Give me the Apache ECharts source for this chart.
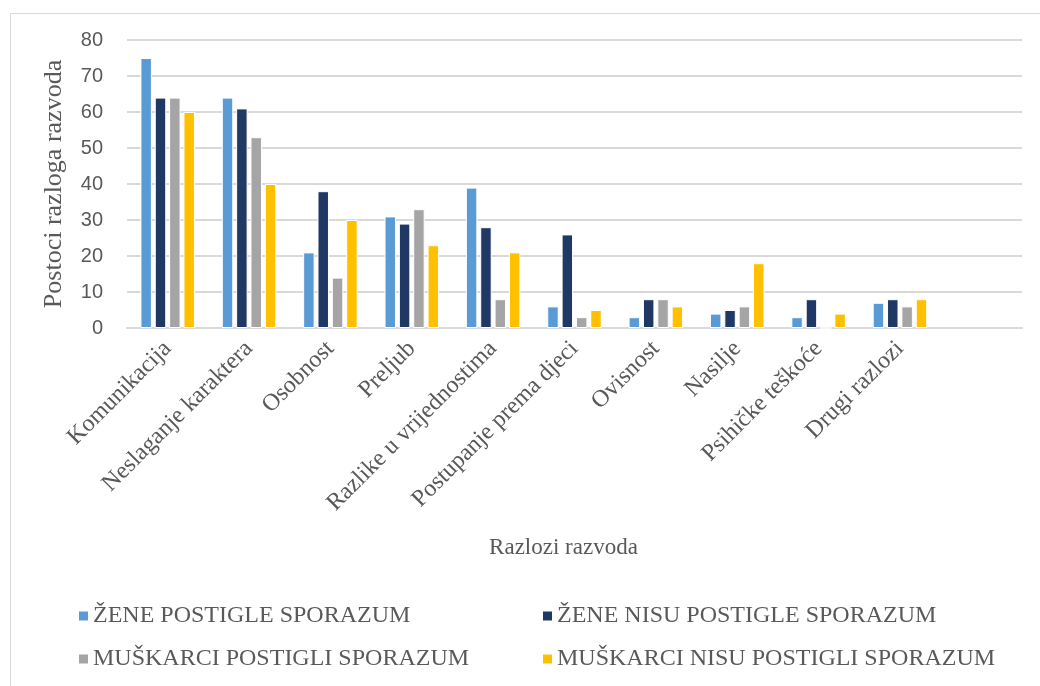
<!DOCTYPE html>
<html>
<head>
<meta charset="utf-8">
<script src="https://cdn.jsdelivr.net/npm/echarts@6/dist/echarts.min.js"></script>
<style>html,body{margin:0;padding:0;background:#fff}#c{width:1040px;height:686px}</style>
</head>
<body>
<div id="c"></div>
<script>
const categories = ['Komunikacija','Neslaganje karaktera','Osobnost','Preljub','Razlike u vrijednostima','Postupanje prema djeci','Ovisnost','Nasilje','Psihičke teškoće','Drugi razlozi',''];
const seriesNames = ['ŽENE POSTIGLE SPORAZUM','ŽENE NISU POSTIGLE SPORAZUM','MUŠKARCI POSTIGLI SPORAZUM','MUŠKARCI NISU POSTIGLI SPORAZUM'];
const zenePostigle = [75, 64, 21, 31, 39, 6, 3, 4, 3, 7];
const zeneNisu = [64, 61, 38, 29, 28, 26, 8, 5, 8, 8];
const muskarciPostigli = [64, 53, 14, 33, 8, 3, 8, 6, 0, 6];
const muskarciNisu = [60, 40, 30, 23, 21, 5, 6, 18, 4, 8];
const yTicks = [0, 10, 20, 30, 40, 50, 60, 70, 80];
const colors = ['#5b9bd5', '#203864', '#a5a5a5', '#ffc000'];

const seriesData = [zenePostigle, zeneNisu, muskarciPostigli, muskarciNisu];
const chart = echarts.init(document.getElementById('c'), null, {renderer: 'canvas'});
const serif = '"Liberation Serif", "Times New Roman", serif';
const legendPos = [[77, 604], [541, 604], [77, 647], [541, 647]];
chart.setOption({
  animation: false,
  color: colors,
  graphic: [{
    type: 'rect', left: 8, top: 11, shape: {width: 1100, height: 700},
    style: {fill: 'none', stroke: '#d9d9d9', lineWidth: 1}, silent: true
  }],
  grid: {left: 127, right: 18, top: 40, bottom: 358, containLabel: false},
  legend: seriesNames.map((n, i) => ({
    data: [n], left: legendPos[i][0], top: legendPos[i][1], padding: 0,
    itemWidth: 11, itemHeight: 11, itemGap: 3, icon: 'rect',
    textStyle: {fontFamily: serif, fontSize: 24, color: '#595959', padding: [0, 0, 0, -1]}
  })),
  xAxis: {
    type: 'category', data: categories,
    axisLine: {lineStyle: {color: '#d9d9d9', width: 2}},
    axisTick: {show: false},
    axisLabel: {rotate: 45, interval: 0, margin: 17, fontFamily: serif, fontSize: 24, color: '#595959'},
    name: 'Razlozi razvoda', nameLocation: 'middle', nameGap: 208,
    nameTextStyle: {fontFamily: serif, fontSize: 23, color: '#595959', padding: [0, 22, 0, 0]}
  },
  yAxis: {
    type: 'value', min: 0, max: 80, interval: 10,
    axisLine: {show: false}, axisTick: {show: false},
    splitLine: {lineStyle: {color: '#d9d9d9', width: 2}},
    axisLabel: {margin: 24, fontFamily: '"Liberation Sans", Arial, sans-serif', fontSize: 20, color: '#595959',
      formatter: v => yTicks.includes(v) ? String(v) : ''},
    name: 'Postoci razloga razvoda', nameLocation: 'middle', nameGap: 60, nameRotate: 90,
    nameTextStyle: {fontFamily: serif, fontSize: 26, color: '#595959'}
  },
  series: seriesNames.map((n, i) => ({
    name: n, type: 'bar', data: seriesData[i],
    barGap: '25%', barCategoryGap: '33%',
    itemStyle: {color: colors[i], borderColor: '#ffffff', borderWidth: 1}
  }))
});
</script>
</body>
</html>
